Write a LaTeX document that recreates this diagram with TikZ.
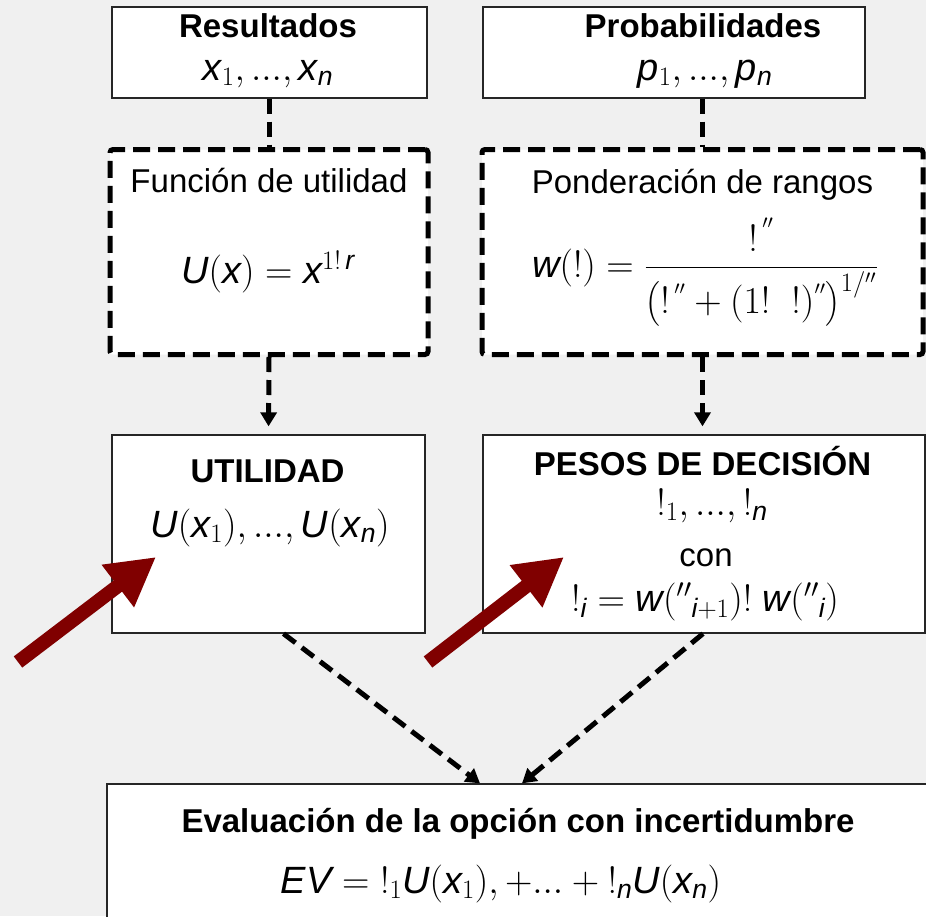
\documentclass[tikz,border=0pt]{standalone}
\usepackage{fix-cm}
\usepackage{amsmath}
\usepackage{fontspec}
\setmainfont{Liberation Sans}
\usetikzlibrary{arrows.meta,calc}
\definecolor{bggray}{RGB}{240,240,240}
\definecolor{darkred}{RGB}{128,0,0}

\begin{document}
\begin{tikzpicture}[x=1pt,y=-1pt,
  box/.style={draw=black!85,line width=1.3pt,fill=white,inner sep=0pt},
  dbox/.style={draw,line width=5pt,dash pattern=on 17pt off 8pt,fill=white,rounded corners=3pt,inner sep=0pt},
  conn/.style={line width=5pt,dash pattern=on 15pt off 8pt},
  redarr/.style={darkred,line width=14pt,-{Triangle[length=48pt,width=50pt]}},
  hd/.style={font=\bfseries\fontsize{33}{35}\selectfont,inner sep=1pt},
  tx/.style={font=\fontsize{33}{35}\selectfont,inner sep=0pt},
  mth/.style={font=\fontsize{38}{40}\selectfont,inner sep=0pt},
  >={Triangle[length=14pt,width=16pt]}]
	\useasboundingbox (0,0) rectangle (926,916);
	\fill[bggray] (0,0) rectangle (926,916);
	%
	\node[box,minimum width=315pt,minimum height=91pt] (res) at (269.5,52.5) {};
	\node[box,minimum width=382pt,minimum height=91pt] (prob) at (674,52.5) {};
	\node[dbox,minimum width=318pt,minimum height=205pt] (func) at (269,252) {};
	\node[dbox,minimum width=441pt,minimum height=205pt] (pond) at (702.5,252) {};
	\node[box,minimum width=313pt,minimum height=198pt] (util) at (268.5,534) {};
	\node[box,minimum width=442pt,minimum height=198pt] (pesos) at (704,534) {};
	\node[box,minimum width=860pt,minimum height=160pt] (eval) at (537,864) {};
	%
	\node[hd,anchor=base] (resT) at (268,37) {Resultados};
	\node[mth,anchor=base] (resM) at (268,80) {$\mathit{x}_1,...,\mathit{x}_{\mathit{n}}$};
	\node[hd,anchor=base] (probT) at (703,37) {Probabilidades};
	\node[mth,anchor=base] (probM) at (705,80) {$\mathit{p}_1,...,\mathit{p}_{\mathit{n}}$};
	\node[tx,anchor=base] (funcT) at (269,192) {Función de utilidad};
	\node[mth,anchor=base] (funcM) at (268,283) {$\mathit{U}(\mathit{x})=\mathit{x}^{1!\,\mathit{r}}$};
	\node[tx,anchor=base] (pondT) at (702.5,193) {Ponderación de rangos};
	\node[mth] (pondM) at (705,272)
		{$\mathit{w}(!)=\dfrac{!^{\,''}}{\bigl(!^{\,''}+(1!\;\;!)^{''}\bigr)^{1/''}}$};
	\node[hd,anchor=base] (utilT) at (267.5,482) {UTILIDAD};
	\node[mth,anchor=base] (utilM) at (270,537) {$\mathit{U}(\mathit{x}_1),...,\mathit{U}(\mathit{x}_{\mathit{n}})$};
	\node[hd,anchor=base] (pesosT) at (702.5,475) {PESOS DE DECISIÓN};
	\node[mth,anchor=base] (pesosM) at (712,515) {${!}_{1},...,{!}_{\mathit{n}}$};
	\node[tx,anchor=base] (pesosC) at (706,566) {con};
	\node[mth,anchor=base] (pesosF) at (705,611)
		{${!}_{\mathit{i}}=\mathit{w}({''}_{\mathit{i}+1})!\;\mathit{w}({''}_{\mathit{i}})$};
	\node[hd,anchor=base] (evalT) at (518,832) {Evaluación de la opción con incertidumbre};
	\node[mth,anchor=base] (evalM) at (501,893)
		{$\mathit{EV}={!}_{1}\mathit{U}(\mathit{x}_1),+...+{!}_{\mathit{n}}\mathit{U}(\mathit{x}_{\mathit{n}})$};
	%
	\draw[conn] (func.north |- res.south) -- (func.north);
	\draw[conn] (pond.north |- prob.south) -- (pond.north);
	\draw[conn,->,shorten >=8pt] (func.south) -- (util.north);
	\draw[conn,->,shorten >=8pt] (pond.south) -- (pond.south |- pesos.north);
	\draw[conn,->] ($(util.south)+(15,0)$) -- ($(eval.north)+(-57,0)$);
	\draw[conn,->] ($(pesos.south)+(-1,0)$) -- ($(eval.north)+(-15,0)$);
	%
	\coordinate (ul0) at (18,662);
	\coordinate (ul1) at (156,557);
	\coordinate (pr0) at (428,662);
	\coordinate (pr1) at (564,557);
	\draw[redarr] (ul0) -- (ul1);
	\draw[redarr] (pr0) -- (pr1);
\end{tikzpicture}
\end{document}
